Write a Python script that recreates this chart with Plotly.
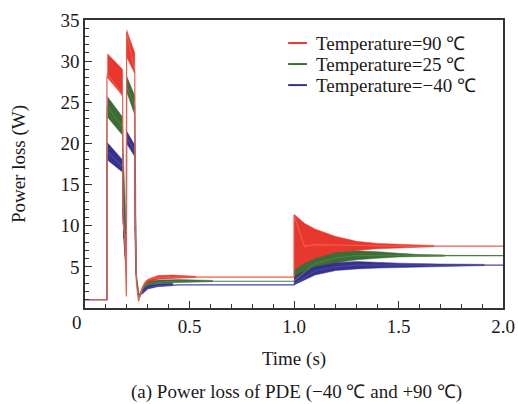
import plotly.graph_objects as go

# Thin curve of each series (time in s, power loss in W)
red_t = [0, 0.105, 0.105, 0.107, 0.18, 0.182, 0.19, 0.196, 0.198, 0.199, 0.238, 0.24, 0.246, 0.256,
         0.262, 0.27, 0.28, 0.29, 0.3, 0.32, 0.35, 0.4, 1.0, 1.0, 1.05, 1.1, 1.2, 1.3, 1.4, 1.5, 1.67, 2.0]
red_p = [1.0, 1.0, 28.0, 28.5, 25.8, 10.5, 8.8, 1.4, 1.4, 33.5, 28.8, 12.5, 3.0, 0.8,
         1.3, 2.0, 2.8, 3.2, 3.4, 3.6, 3.7, 3.75, 3.75, 11.3, 7.5, 7.7, 7.65, 7.55, 7.53, 7.53, 7.53, 7.53]

green_t = [0, 0.105, 0.105, 0.107, 0.18, 0.181, 0.19, 0.196, 0.198, 0.199, 0.238, 0.24, 0.246,
           0.258, 0.265, 0.28, 0.3, 0.35, 0.45, 1.0, 1.0, 1.1, 1.2, 1.3, 1.5, 1.72, 2.0]
green_p = [1.0, 1.0, 23.0, 24.5, 22.0, 14.5, 9.0, 6.5, 6.0, 27.0, 24.5, 13.0, 4.0,
           1.4, 1.9, 2.6, 2.9, 3.15, 3.25, 3.25, 3.3, 5.4, 6.1, 6.4, 6.4, 6.36, 6.36]

blue_t = [0, 0.105, 0.105, 0.107, 0.18, 0.181, 0.19, 0.196, 0.198, 0.199, 0.238, 0.24, 0.246,
          0.259, 0.27, 0.3, 0.35, 0.45, 1.0, 1.0, 1.1, 1.2, 1.3, 1.5, 1.91, 2.0]
blue_p = [1.0, 1.0, 18.0, 19.0, 17.2, 12.0, 7.0, 5.5, 5.5, 20.8, 19.0, 10.0, 3.5,
          1.3, 1.8, 2.4, 2.7, 2.8, 2.8, 2.9, 4.5, 5.0, 5.2, 5.2, 5.22, 5.22]

# Oscillation envelopes (segments separated by None)
red_band_t = [0.107, 0.18, None, 0.182, 0.194, None, 0.199, 0.238, None,
              0.27, 0.3, 0.35, 0.42, 0.53, None,
              1.0, 1.05, 1.1, 1.2, 1.3, 1.4, 1.5, 1.6, 1.67]
red_band_hi = [30.9, 29.0, None, 11.0, 9.8, None, 33.8, 31.0, None,
               2.4, 3.5, 3.95, 4.0, 3.85, None,
               11.4, 10.3, 9.6, 8.7, 8.1, 7.85, 7.75, 7.65, 7.6]
red_band_lo = [28.0, 25.8, None, 8.5, 8.5, None, 30.5, 28.5, None,
               1.8, 3.0, 3.5, 3.6, 3.7, None,
               3.8, 4.8, 5.8, 6.6, 7.0, 7.2, 7.3, 7.4, 7.45]

green_band_t = [0.107, 0.18, None, 0.18, 0.19, 0.196, None, 0.199, 0.238, None, 0.238, 0.243, None,
                0.27, 0.3, 0.35, 0.45, 0.61, None,
                1.0, 1.05, 1.1, 1.2, 1.3, 1.4, 1.5, 1.6, 1.72]
green_band_hi = [25.7, 23.2, None, 21.0, 15.0, 10.0, None, 28.2, 25.8, None, 23.5, 14.0, None,
                 2.2, 3.1, 3.4, 3.45, 3.35, None,
                 4.6, 5.4, 6.0, 6.7, 6.95, 6.85, 6.65, 6.5, 6.45]
green_band_lo = [23.2, 21.0, None, 14.5, 9.0, 7.0, None, 26.3, 23.5, None, 14.0, 6.0, None,
                 1.8, 2.7, 3.0, 3.1, 3.2, None,
                 3.25, 4.0, 4.8, 5.5, 5.85, 6.05, 6.2, 6.25, 6.3]

blue_band_t = [0.107, 0.18, None, 0.18, 0.19, 0.196, None, 0.199, 0.238, None, 0.238, 0.243, None,
               0.27, 0.3, 0.35, 0.42, None,
               1.0, 1.05, 1.1, 1.2, 1.3, 1.4, 1.5, 1.7, 1.91]
blue_band_hi = [20.1, 18.0, None, 17.2, 11.0, 7.5, None, 21.5, 19.8, None, 18.4, 10.0, None,
                2.0, 2.7, 2.95, 3.0, None,
                3.8, 4.5, 5.0, 5.5, 5.65, 5.55, 5.45, 5.35, 5.3]
blue_band_lo = [18.0, 16.5, None, 12.0, 6.5, 5.3, None, 20.0, 18.4, None, 10.0, 4.0, None,
                1.6, 2.3, 2.6, 2.7, None,
                2.8, 3.4, 4.0, 4.55, 4.75, 4.85, 4.9, 5.05, 5.15]

SERIES = [
    ("Temperature=90 ℃", "#e8382e", "#ef5a50", red_t, red_p, red_band_t, red_band_hi, red_band_lo),
    ("Temperature=25 ℃", "#3b6d34", "#4f7d48", green_t, green_p, green_band_t, green_band_hi, green_band_lo),
    ("Temperature=−40 ℃", "#35328e", "#4a47a0", blue_t, blue_p, blue_band_t, blue_band_hi, blue_band_lo),
]

FONT = "Liberation Serif, Times New Roman, serif"
TXT = "#1a1a1a"


def band_polygon(t, hi, lo):
    """Turn envelope segments into closed polygons separated by None"""
    xs, ys = [], []
    seg_t, seg_hi, seg_lo = [], [], []
    for a, b, c in list(zip(t, hi, lo)) + [(None, None, None)]:
        if a is None:
            if seg_t:
                xs += seg_t + seg_t[::-1] + [None]
                ys += seg_hi + seg_lo[::-1] + [None]
            seg_t, seg_hi, seg_lo = [], [], []
        else:
            seg_t.append(a)
            seg_hi.append(b)
            seg_lo.append(c)
    return xs, ys


fig = go.Figure()

# bands first (red underneath)
for name, fill_col, line_col, t, p, bt, bhi, blo in SERIES:
    xs, ys = band_polygon(bt, bhi, blo)
    fig.add_scatter(x=xs, y=ys, mode="lines", fill="toself", fillcolor=fill_col,
                    line=dict(width=0.5, color=fill_col), showlegend=False, hoverinfo="skip")

# thin lines, red on top
for name, fill_col, line_col, t, p, bt, bhi, blo in reversed(SERIES):
    fig.add_scatter(x=t, y=p, mode="lines", name=name, showlegend=False,
                    line=dict(width=1.2, color=line_col))

# legend drawn as key lines + text rows (rows are tighter than plotly's legend allows)
legend_rows_y = [0.920, 0.847, 0.774]
for (name, fill_col, line_col, *_), ly in zip(SERIES, legend_rows_y):
    fig.add_shape(type="line", xref="paper", yref="paper", x0=0.486, x1=0.531, y0=ly, y1=ly,
                  line=dict(color=fill_col, width=2))
    fig.add_annotation(text=name, xref="paper", yref="paper", x=0.548, y=ly, xanchor="left",
                       yanchor="middle", showarrow=False, font=dict(family=FONT, size=19, color=TXT))

fig.update_xaxes(
    range=[0, 2.0],
    tickvals=[0.5, 1.0, 1.5, 2.0],
    ticktext=["0.5", "1.0", "1.5", "2.0"],
    ticks="inside", ticklen=7, tickwidth=1.2, tickcolor="#333",
    minor=dict(dtick=0.1, ticks="inside", ticklen=4, tickcolor="#333"),
    showline=True, mirror=True, linecolor="#333", linewidth=1.5,
    showgrid=False, zeroline=False, automargin=False,
    tickfont=dict(family=FONT, size=19, color=TXT),
    title=dict(text="Time (s)", font=dict(family=FONT, size=19, color=TXT), standoff=16),
)
fig.update_yaxes(
    range=[0, 35],
    tickvals=[5, 10, 15, 20, 25, 30, 35],
    ticks="inside", ticklen=7, tickwidth=1.2, tickcolor="#333",
    minor=dict(dtick=1, ticks="inside", ticklen=4, tickcolor="#333"),
    showline=True, mirror=True, linecolor="#333", linewidth=1.5,
    showgrid=False, zeroline=False, automargin=False,
    tickfont=dict(family=FONT, size=19, color=TXT),
    title=dict(text="Power loss (W)", font=dict(family=FONT, size=19, color=TXT), standoff=30),
)

fig.add_annotation(text="0", xref="paper", yref="paper", x=-0.036, y=-0.052,
                   yanchor="middle", showarrow=False, font=dict(family=FONT, size=19, color=TXT))
fig.add_annotation(text="(a) Power loss of PDE (−40 ℃ and +90 ℃)", xref="paper", yref="paper",
                   x=0.505, y=-0.292, yanchor="middle", showarrow=False,
                   font=dict(family=FONT, size=19, color=TXT))

fig.update_layout(
    width=518, height=404,
    margin=dict(l=85, r=15, t=20, b=96),
    paper_bgcolor="white", plot_bgcolor="white",
    showlegend=False,
)

fig.write_html("out.html", config={"displayModeBar": False},
               post_script="document.body.style.margin='0px';")
